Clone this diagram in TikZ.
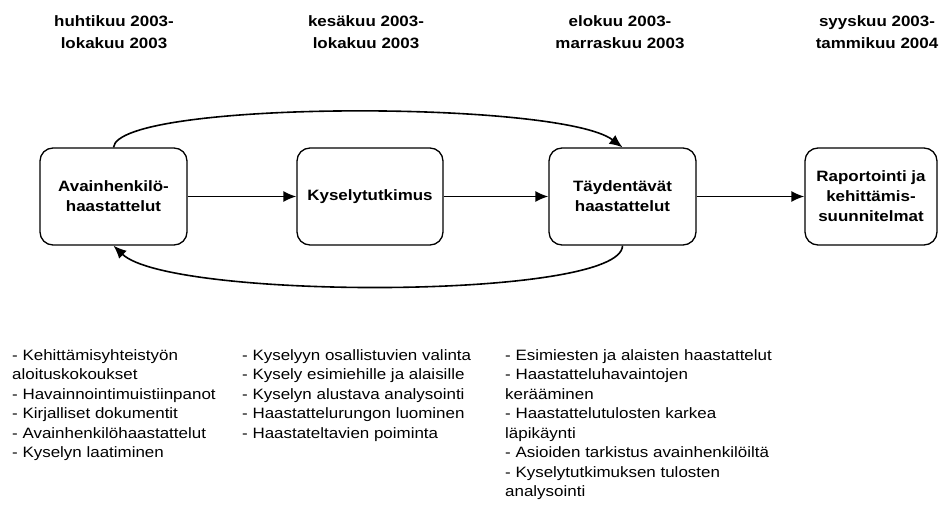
\documentclass[tikz,border=0pt]{standalone}
\usepackage{fontspec}
\setmainfont{Liberation Sans}[FakeStretch=1.13]
\usetikzlibrary{arrows.meta}
\begin{document}
\begin{tikzpicture}[x=1pt,y=-1pt,
  stagebox/.style={draw, line width=1.3pt, rounded corners=13pt, minimum height=97pt, align=center, inner sep=2pt, font=\fontsize{15}{20}\selectfont\bfseries},
  header/.style={align=center, inner sep=0pt, anchor=base, font=\fontsize{15}{21}\selectfont\bfseries},
  listtext/.style={align=left, inner sep=0pt, anchor=base west, font=\fontsize{15}{19.5}\selectfont},
  flow/.style={line width=1.6pt, -{Latex[length=13pt,width=11pt]}}]
\useasboundingbox (0,0) rectangle (943,506);
% headers (anchor = baseline of last line)
\node[header] (h1) at (114,48) {huhtikuu 2003-\\lokakuu 2003};
\node[header] (h2) at (366,48) {kesäkuu 2003-\\lokakuu 2003};
\node[header] (h3) at (620,48) {elokuu 2003-\\marraskuu 2003};
\node[header] (h4) at (877,48) {syyskuu 2003-\\tammikuu 2004};
% boxes
\node[stagebox, minimum width=147pt] (b1) at (113.5,196.5) {Avainhenkilö-\\haastattelut};
\node[stagebox, minimum width=146pt] (b2) at (370,196.5) {Kyselytutkimus};
\node[stagebox, minimum width=147pt] (b3) at (622.5,196.5) {Täydentävät\\haastattelut};
\node[stagebox, minimum width=132pt] (b4) at (871,196.5) {Raportointi ja\\kehittämis-\\suunnitelmat};
% straight arrows
\draw[flow] (b1.east) -- (b2.west);
\draw[flow] (b2.east) -- (b3.west);
\draw[flow] (b3.east) -- (b4.west);
% arcs
\coordinate (t1) at (b1.north);
\coordinate (t3) at (b3.north);
\coordinate (u1) at (b1.south);
\coordinate (u3) at (b3.south);
\draw[flow] (t1) .. controls (118,100) and (560,100) .. (t3);
\draw[flow] (u3) .. controls (622,300) and (170,300) .. (u1);
% lists (anchor = baseline of last line)
\node[listtext] (l1) at (12,457.5) {- Kehittämisyhteistyön\\aloituskokoukset\\- Havainnointimuistiinpanot\\- Kirjalliset dokumentit\\- Avainhenkilöhaastattelut\\- Kyselyn laatiminen};
\node[listtext] (l2) at (242,438) {- Kyselyyn osallistuvien valinta\\- Kysely esimiehille ja alaisille\\- Kyselyn alustava analysointi\\- Haastattelurungon luominen\\- Haastateltavien poiminta};
\node[listtext] (l3) at (505,496.5) {- Esimiesten ja alaisten haastattelut\\- Haastatteluhavaintojen\\kerääminen\\- Haastattelutulosten karkea\\läpikäynti\\- Asioiden tarkistus avainhenkilöiltä\\- Kyselytutkimuksen tulosten\\analysointi};
\end{tikzpicture}
\end{document}
